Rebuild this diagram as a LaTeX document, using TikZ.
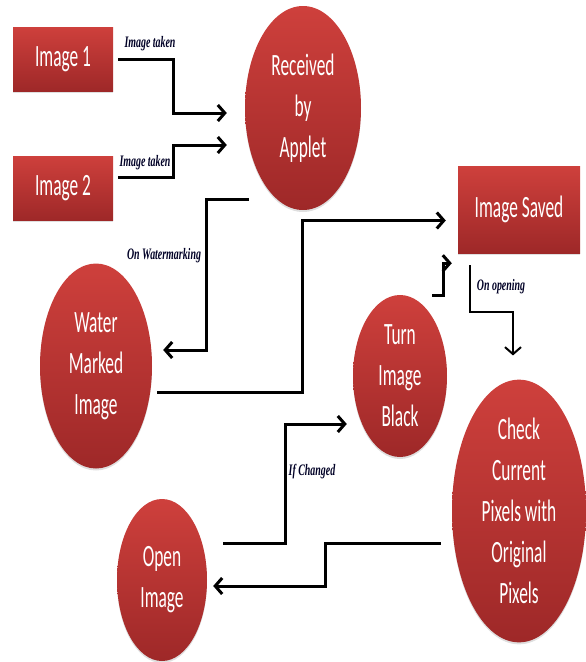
\documentclass[tikz,border=0pt]{standalone}
\usepackage{fontspec}
\usetikzlibrary{arrows.meta,calc,shapes.geometric,shadows}
\newfontfamily\shapefont[FakeStretch=0.56]{Carlito}
\newfontfamily\flowfont[FakeStretch=0.62]{Liberation Serif}
\definecolor{redTop}{RGB}{206,64,60}
\definecolor{redBottom}{RGB}{158,40,40}
\colorlet{TagInk}{black!85!blue}

\begin{document}
\begin{tikzpicture}[x=1pt,y=-1pt,
  stepfill/.style={inner sep=0pt,draw=none,top color=redTop,bottom color=redBottom,
    drop shadow={opacity=0.25,shadow xshift=0pt,shadow yshift=-2pt},
    text=white,align=center,font=\shapefont\fontsize{31}{41}\selectfont},
  stepbox/.style={stepfill,rectangle,minimum width=100pt,minimum height=64pt},
  stepoval/.style={stepfill,ellipse},
  flow/.style={line width=3pt,-{Straight Barb[length=7pt,width=16pt]}},
  flowtag/.style={fill=white,inner sep=2pt,text=TagInk,
    font=\flowfont\bfseries\itshape\fontsize{16}{18}\selectfont}]
  \useasboundingbox (0,0) rectangle (586,662);

  \node[stepbox] (img1) at (63,59) {Image 1};
  \node[stepbox] (img2) at (63,188) {Image 2};
  \node[stepbox,minimum width=122pt,minimum height=87pt] (saved) at (519,209.5) {Image Saved};
  \node[stepoval,minimum width=116pt,minimum height=204pt] (applet) at (303,108) {Received\\by\\Applet};
  \node[stepoval,minimum width=112pt,minimum height=205pt] (water) at (96,366) {Water\\Marked\\Image};
  \node[stepoval,minimum width=94pt,minimum height=162pt] (black) at (400,376) {Turn\\Image\\Black};
  \node[stepoval,minimum width=134pt,minimum height=258pt] (check) at (519,511) {Check\\Current\\Pixels with\\Original\\Pixels};
  \node[stepoval,minimum width=90pt,minimum height=162pt] (open) at (162,580) {Open\\Image};

  \draw[flow] ($(img1.east)+(5,0)$) -- ++(55,0) |- ($(applet.west)+(-18,5)$);
  \draw[flow] ($(img2.east)+(5,-11)$) -- ++(55,0) |- ($(applet.west)+(-18,37)$);
  \draw[flow] ($(applet.south)+(-54,-11)$) -- ++(-43,0) |- ($(water.east)+(11,-16)$);
  \draw[flow] ($(water.east)+(5,26)$) -- ++(145,0) |- ($(saved.west)+(-12,11)$);
  \draw[flow] ($(black.north)+(32,1)$) -- ++(11,0) |- ($(saved.south west)+(-6,10)$);
  \draw[flow,line width=2pt] ($(saved.south west)+(12,12)$) -- ++(0,47) -| ($(check.north)+(-6,-24)$);
  \draw[flow] ($(open.east)+(16,-37)$) -- ++(62,0) |- ($(black.west)+(-6,48)$);
  \draw[flow] ($(check.west)+(-11,32)$) -- ++(-115,0) |- ($(open.east)+(6,6)$);

  \node[flowtag] (tag1) at (150,44) {Image taken};
  \node[flowtag] (tag2) at (145,163) {Image taken};
  \node[flowtag] (tag3) at (164,256) {On Watermarking};
  \node[flowtag] (tag4) at (501,287) {On opening};
  \node[flowtag] (tag5) at (312,472) {If Changed};
\end{tikzpicture}
\end{document}
